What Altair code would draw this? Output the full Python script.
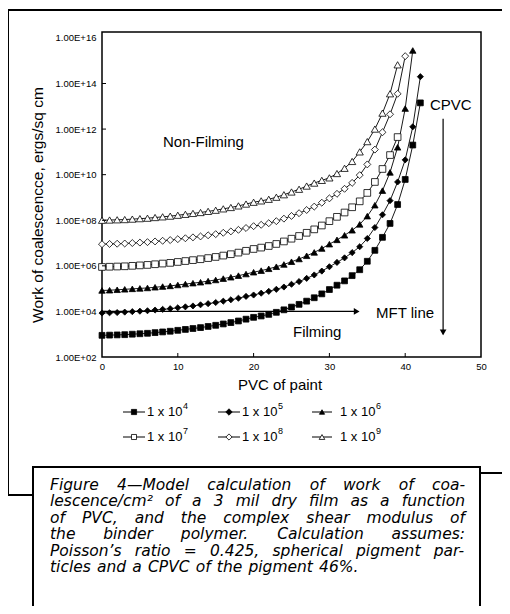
import altair as alt
import pandas as pd

# ---------------- data ----------------
series = ["1 x 10^4", "1 x 10^5", "1 x 10^6", "1 x 10^7", "1 x 10^8", "1 x 10^9"]
exps = ["4", "5", "6", "7", "8", "9"]
shapes = ["square", "diamond", "triangle-up", "square", "diamond", "triangle-up"]
fills = ["black", "black", "black", "white", "white", "white"]
sizes = [34, 52, 34, 32, 48, 40]

# log10(work of coalescence) at PVC = 0, 1, 2, ...
w_1e4 = [2.95, 2.96, 2.97, 2.98, 3.00, 3.02, 3.04, 3.07, 3.10, 3.13, 3.17, 3.21, 3.25, 3.29, 3.34,
         3.39, 3.45, 3.51, 3.58, 3.66, 3.74, 3.80, 3.87, 3.96, 4.07, 4.19, 4.31, 4.45, 4.60, 4.77,
         4.96, 5.15, 5.34, 5.57, 5.83, 6.20, 6.68, 7.25, 7.86, 8.69, 9.79, 11.30, 13.15]
w_1e5 = [3.93, 3.94, 3.95, 3.97, 3.99, 4.01, 4.03, 4.06, 4.09, 4.12, 4.16, 4.20, 4.24, 4.29, 4.34,
         4.39, 4.45, 4.51, 4.58, 4.66, 4.72, 4.80, 4.88, 4.97, 5.07, 5.19, 5.31, 5.45, 5.60, 5.77,
         5.96, 6.15, 6.35, 6.58, 6.84, 7.20, 7.68, 8.24, 8.86, 9.68, 10.65, 12.10, 14.30]
w_1e6 = [4.92, 4.93, 4.95, 4.97, 4.99, 5.01, 5.03, 5.06, 5.09, 5.12, 5.16, 5.20, 5.24, 5.28, 5.33,
         5.38, 5.44, 5.50, 5.57, 5.64, 5.72, 5.79, 5.87, 5.96, 6.06, 6.18, 6.30, 6.44, 6.59, 6.76,
         6.95, 7.14, 7.34, 7.56, 7.82, 8.18, 8.66, 9.30, 10.10, 11.20, 12.90, 15.45]
w_1e7 = [5.95, 5.96, 5.97, 5.98, 6.00, 6.02, 6.04, 6.07, 6.10, 6.13, 6.17, 6.21, 6.25, 6.29, 6.34,
         6.39, 6.45, 6.51, 6.58, 6.66, 6.74, 6.80, 6.87, 6.96, 7.07, 7.19, 7.31, 7.45, 7.60, 7.77,
         7.96, 8.15, 8.34, 8.57, 8.83, 9.20, 9.68, 10.25, 10.86, 11.65]
w_1e8 = [6.95, 6.96, 6.97, 6.98, 7.00, 7.02, 7.04, 7.07, 7.10, 7.13, 7.17, 7.21, 7.25, 7.29, 7.34,
         7.39, 7.45, 7.51, 7.58, 7.66, 7.74, 7.80, 7.87, 7.96, 8.07, 8.19, 8.31, 8.45, 8.60, 8.77,
         8.96, 9.16, 9.38, 9.64, 9.98, 10.45, 11.10, 11.86, 12.65, 13.55, 15.20]
w_1e9 = [8.00, 8.01, 8.02, 8.03, 8.05, 8.07, 8.09, 8.12, 8.15, 8.18, 8.22, 8.26, 8.30, 8.34, 8.39,
         8.44, 8.50, 8.56, 8.63, 8.71, 8.79, 8.85, 8.92, 9.01, 9.12, 9.24, 9.36, 9.50, 9.63, 9.75,
         9.86, 10.05, 10.28, 10.58, 11.00, 11.45, 12.00, 12.70, 13.55, 14.82]
all_logs = [w_1e4, w_1e5, w_1e6, w_1e7, w_1e8, w_1e9]

x_ticks = [0, 10, 20, 30, 40, 50]
y_ticks = [1e2, 1e4, 1e6, 1e8, 1e10, 1e12, 1e14, 1e16]

mft = {"pvc": [0.0], "pvc2": [33.6], "w": [1e4]}
cpvc = {"pvc": [45.0], "w": [10 ** 12.45], "w2": [10 ** 3.0], "whead": [10 ** 3.08]}

caption = [
    "Figure 4\u2014Model calculation of work of coa-",
    "lescence/cm\u00b2 of a 3 mil dry film as a function",
    "of PVC, and the complex shear modulus of",
    "the binder polymer. Calculation assumes:",
    "Poisson\u2019s ratio = 0.425, spherical pigment par-",
    "ticles and a CPVC of the pigment 46%.",
]

# ---------------- build table ----------------
rows = []
for name, logs in zip(series, all_logs):
    for i, lv in enumerate(logs):
        rows.append({"series": name, "pvc": i, "w": 10 ** lv})
df = pd.DataFrame(rows)

FONT = "Liberation Sans"
X_SCALE = alt.Scale(domain=[0, 50], nice=False, zero=False)
Y_SCALE = alt.Scale(type="log", domain=[1e2, 10 ** 16.26], nice=False)
X_AXIS = alt.Axis(values=x_ticks, title=None, ticks=False, domain=False, grid=False,
                  labelFont=FONT, labelFontSize=9.5, labelPadding=4, labelColor="black",
                  labelFlush=False, labelOverlap=False)
Y_AXIS = alt.Axis(values=y_ticks, title=None, ticks=False, domain=False, grid=False,
                  labelFont=FONT, labelFontSize=9.5, labelPadding=6, labelColor="black",
                  labelOverlap=False,
                  labelExpr="'1.00E+' + (round(log(datum.value)/LN10) < 10 ? '0' : '') + round(log(datum.value)/LN10)")


def X(field):
    return alt.X(field, scale=X_SCALE, axis=X_AXIS, title=None)


def Y(field):
    return alt.Y(field, scale=Y_SCALE, axis=Y_AXIS, title=None)


one = pd.DataFrame({"a": [0]})
layers = []


def hline(x0, x1, y, w=2):
    return alt.Chart(one).mark_rule(color="black", strokeWidth=w).encode(
        x=alt.value(x0), x2=alt.value(x1), y=alt.value(y))


def vline(x, y0, y1, w=2):
    return alt.Chart(one).mark_rule(color="black", strokeWidth=w).encode(
        x=alt.value(x), y=alt.value(y0), y2=alt.value(y1))


# data series first (defines axes)
base = alt.Chart(df)
layers.append(base.mark_line(color="black", strokeWidth=0.9).encode(
    x=X("pvc:Q"), y=Y("w:Q"), detail="series:N", order="pvc:Q"))
layers.append(base.mark_point(filled=True, stroke="black", strokeWidth=0.8, opacity=1).encode(
    x=X("pvc:Q"), y=Y("w:Q"),
    shape=alt.Shape("series:N", scale=alt.Scale(domain=series, range=shapes), legend=None),
    fill=alt.Fill("series:N", scale=alt.Scale(domain=series, range=fills), legend=None),
    size=alt.Size("series:O", scale=alt.Scale(domain=series, range=sizes), legend=None)))

# outer figure frame
layers += [hline(-94, 420, -22), vline(-94, -22, 463), hline(-94, -69, 463), hline(378, 420, 441)]

# caption box
layers.append(alt.Chart(one).mark_rect(fill="white", stroke="black", strokeWidth=2).encode(
    x=alt.value(-69), x2=alt.value(378), y=alt.value(435), y2=alt.value(600)))

# justified caption: approximate DejaVu Sans advance widths (units of 1/2048 em)
ADV = {" ": 651, "%": 1946, ",": 651, "-": 739, ".": 651, "/": 690, ":": 690, "=": 1716,
       "C": 1430, "F": 1178, "M": 1767, "P": 1235, "V": 1401, "a": 1255, "b": 1300, "c": 1126,
       "d": 1300, "e": 1260, "f": 721, "g": 1300, "h": 1298, "i": 569, "k": 1186, "l": 569,
       "m": 1995, "n": 1298, "o": 1253, "p": 1300, "q": 1300, "r": 842, "s": 1067, "t": 803,
       "u": 1298, "v": 1212, "w": 1675, "x": 1212, "y": 1212, "\u00b2": 821, "\u2019": 651,
       "\u2014": 2048}
CAP_SIZE = 15.5
CAP_X0, CAP_X1 = -52, 363


def tw(s):
    return sum(ADV.get(ch, 1303) for ch in s) * CAP_SIZE / 2048.0


for k, line in enumerate(caption):
    words = line.split(" ")
    widths = [tw(wd) for wd in words]
    if k < len(caption) - 1:
        gap = (CAP_X1 - CAP_X0 - sum(widths)) / (len(words) - 1)
    else:
        gap = tw(" ") * 1.25
    xpos = CAP_X0
    for wd, wdw in zip(words, widths):
        layers.append(alt.Chart(one).mark_text(align="left", baseline="middle", font="DejaVu Sans",
                                               fontStyle="italic", fontSize=CAP_SIZE, color="black").encode(
            x=alt.value(round(xpos, 1)), y=alt.value(453 + k * 16.4), text=alt.value(wd)))
        xpos += wdw + gap

# inside ticks
layers.append(alt.Chart(pd.DataFrame({"w": y_ticks[1:-1]})).mark_rule(color="black", strokeWidth=1).encode(
    y=Y("w:Q"), x=alt.value(0), x2=alt.value(4)))
layers.append(alt.Chart(pd.DataFrame({"pvc": x_ticks[1:-1]})).mark_rule(color="black", strokeWidth=1).encode(
    x=X("pvc:Q"), y=alt.value(325), y2=alt.value(321)))

# MFT arrow
mft_df = pd.DataFrame(mft)
layers.append(alt.Chart(mft_df).mark_rule(color="black", strokeWidth=1.2).encode(
    x=X("pvc:Q"), x2="pvc2:Q", y=Y("w:Q")))
layers.append(alt.Chart(mft_df).mark_point(shape="triangle-right", filled=True, color="black", size=45, opacity=1).encode(
    x=X("pvc2:Q"), y=Y("w:Q")))

# CPVC arrow
cp_df = pd.DataFrame(cpvc)
layers.append(alt.Chart(cp_df).mark_rule(color="black", strokeWidth=1.2).encode(
    x=X("pvc:Q"), y=Y("w:Q"), y2="w2:Q"))
layers.append(alt.Chart(cp_df).mark_point(shape="triangle-down", filled=True, color="black", size=45, opacity=1).encode(
    x=X("pvc:Q"), y=Y("whead:Q")))


def label(txt, x, y, size=15, align="left", angle=0):
    return alt.Chart(one).mark_text(align=align, baseline="middle", font=FONT, fontSize=size,
                                    color="black", angle=angle).encode(
        x=alt.value(x), y=alt.value(y), text=alt.value(txt))


layers += [
    label("Non-Filming", 61, 110),
    label("CPVC", 328, 73),
    label("MFT line", 274, 281),
    label("Filming", 191, 300),
    label("PVC of paint", 178, 353, size=15, align="center"),
    label("Work of coalescencce, ergs/sq cm", -64, 173, size=15.5, align="center", angle=270),
]

# legend (manual)
sym_x0 = [21, 116, 210]
sym_x1 = [43, 138, 230]
txt_x = [45, 140, 238]
row_y = [380, 405]
for i, name in enumerate(series):
    c, r = i % 3, i // 3
    ly = row_y[r]
    layers.append(alt.Chart(one).mark_rule(color="black", strokeWidth=1).encode(
        x=alt.value(sym_x0[c]), x2=alt.value(sym_x1[c]), y=alt.value(ly)))
    layers.append(alt.Chart(one).mark_point(shape=shapes[i], filled=True, fill=fills[i], stroke="black",
                                            strokeWidth=0.8, size=sizes[i] * 0.8, opacity=1).encode(
        x=alt.value((sym_x0[c] + sym_x1[c]) / 2), y=alt.value(ly)))
    layers.append(alt.Chart(one).mark_text(align="left", baseline="middle", font=FONT, fontSize=13,
                                           color="black").encode(
        x=alt.value(txt_x[c]), y=alt.value(ly), text=alt.value("1 x 10")))
    layers.append(alt.Chart(one).mark_text(align="left", baseline="middle", font=FONT, fontSize=9,
                                           color="black").encode(
        x=alt.value(txt_x[c] + 36), y=alt.value(ly - 6), text=alt.value(exps[i])))

chart = alt.layer(*layers).properties(
    width=379, height=325,
    padding={"left": 94, "top": 24, "right": 21, "bottom": 249},
    autosize=alt.AutoSizeParams(type="none"),
    background="white",
).configure_view(stroke="black", strokeWidth=1.5)

chart.save("out.html", embed_options={"renderer": "svg", "actions": False})
